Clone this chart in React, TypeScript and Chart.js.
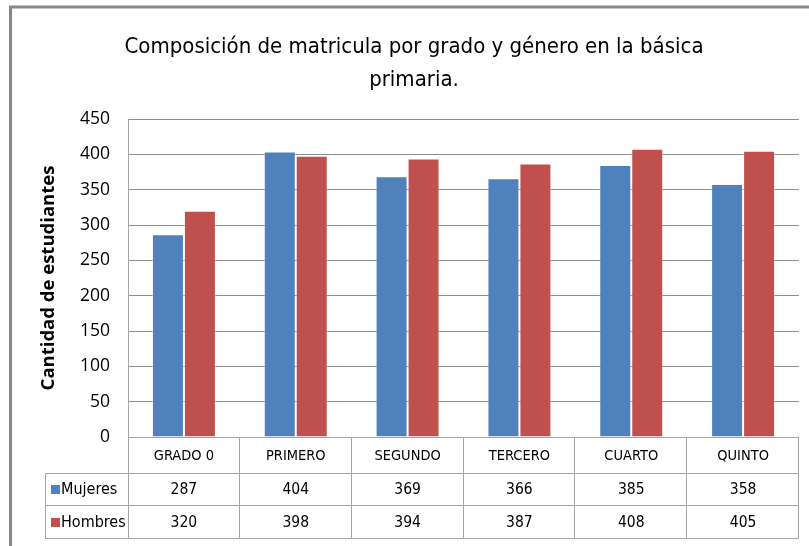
import { useEffect, useRef } from "react";
import { Chart, registerables } from "chart.js";

Chart.register(...registerables);

const categories = ["GRADO 0", "PRIMERO", "SEGUNDO", "TERCERO", "CUARTO", "QUINTO"];
const mujeres = [287, 404, 369, 366, 385, 358];
const hombres = [320, 398, 394, 387, 408, 405];
const seriesNames = ["Mujeres", "Hombres"];
const seriesColors = ["#4F81BD", "#C0504D"];
const titleLines = ["Composición de matricula por grado y género en la básica", "primaria."];
const yAxisTitle = "Cantidad de estudiantes";
const yMin = 0;
const yMax = 450;
const yStep = 50;

const NARROW = '"Liberation Sans Narrow", "DejaVu Sans Condensed", sans-serif';
const OPEN = '"Open Sans", sans-serif';

const tablePlugin = {
  id: "tablePlugin",
  afterDraw(chart: any) {
    const ctx = chart.ctx as CanvasRenderingContext2D;
    const { left, right, top, bottom } = chart.chartArea;
    const n = categories.length;
    const colW = (right - left) / n;
    const r1 = bottom + 36;
    const r2 = bottom + 68;
    const r3 = bottom + 101;
    const tableLeft = 45;
    ctx.save();

    // frame
    ctx.strokeStyle = "#878787";
    ctx.lineWidth = 3;
    ctx.beginPath();
    ctx.moveTo(10.5, chart.height);
    ctx.lineTo(10.5, 7);
    ctx.lineTo(chart.width, 7);
    ctx.stroke();

    // title
    ctx.fillStyle = "#000";
    ctx.textAlign = "center";
    ctx.textBaseline = "middle";
    ctx.font = `22px ${NARROW}`;
    ctx.fillText(titleLines[0], 414, 47);
    ctx.fillText(titleLines[1], 414, 80);

    // y axis title
    ctx.save();
    ctx.translate(49, (top + bottom) / 2);
    ctx.rotate(-Math.PI / 2);
    ctx.font = `bold 18.5px ${OPEN}`;
    ctx.fillText(yAxisTitle, 0, 0);
    ctx.restore();

    // table lines
    ctx.strokeStyle = "#a6a6a6";
    ctx.lineWidth = 1;
    ctx.beginPath();
    const L = Math.round(left) + 0.5;
    const R = Math.round(right) - 0.5;
    ctx.moveTo(L, Math.round(bottom) + 0.5);
    ctx.lineTo(R, Math.round(bottom) + 0.5);
    for (const y of [r1, r2, r3]) {
      ctx.moveTo(tableLeft + 0.5, Math.round(y) + 0.5);
      ctx.lineTo(R, Math.round(y) + 0.5);
    }
    ctx.moveTo(tableLeft + 0.5, Math.round(r1) + 0.5);
    ctx.lineTo(tableLeft + 0.5, Math.round(r3) + 0.5);
    ctx.moveTo(L, Math.round(bottom) + 0.5);
    ctx.lineTo(L, Math.round(r3) + 0.5);
    for (let i = 1; i <= n; i++) {
      const x = Math.round(left + i * colW) - 0.5;
      ctx.moveTo(x, Math.round(bottom) + 0.5);
      ctx.lineTo(x, Math.round(r3) + 0.5);
    }
    ctx.stroke();

    // category labels and values
    const xs = chart.scales.x;
    ctx.fillStyle = "#000";
    ctx.textAlign = "center";
    ctx.font = `14.5px ${NARROW}`;
    categories.forEach((c, i) => {
      ctx.fillText(c, xs.getPixelForValue(i), (bottom + r1) / 2 + 1);
    });
    ctx.font = `15.5px ${NARROW}`;
    const rows = [mujeres, hombres];
    const rowMid = [(r1 + r2) / 2 + 1, (r2 + r3) / 2 + 1];
    rows.forEach((vals, ri) => {
      vals.forEach((v, i) => {
        ctx.fillText(String(v), xs.getPixelForValue(i), rowMid[ri]);
      });
    });

    // legend keys
    ctx.textAlign = "left";
    ctx.font = `16px ${NARROW}`;
    seriesNames.forEach((name, ri) => {
      ctx.fillStyle = seriesColors[ri];
      ctx.fillRect(51, Math.round(rowMid[ri]) - 5, 9, 9);
      ctx.fillStyle = "#000";
      ctx.fillText(name, 61, rowMid[ri]);
    });
    ctx.restore();
  },
};

export default function App() {
  const ref = useRef<HTMLCanvasElement | null>(null);
  useEffect(() => {
    if (!ref.current) return;
    const chart = new Chart(ref.current, {
      type: "bar",
      data: {
        labels: categories,
        datasets: [
          {
            label: seriesNames[0],
            data: mujeres,
            backgroundColor: seriesColors[0],
            borderColor: "rgba(255,255,255,0.45)",
            borderWidth: 1,
          },
          {
            label: seriesNames[1],
            data: hombres,
            backgroundColor: seriesColors[1],
            borderColor: "rgba(255,255,255,0.45)",
            borderWidth: 1,
          },
        ],
      },
      options: {
        responsive: false,
        animation: false,
        devicePixelRatio: 1,
        layout: { padding: { top: 119, right: 10, bottom: 109, left: 0 } },
        datasets: { bar: { categoryPercentage: 0.572, barPercentage: 1 } },
        plugins: { legend: { display: false }, title: { display: false }, tooltip: { enabled: false } },
        scales: {
          x: {
            ticks: { display: false },
            grid: { display: false },
            border: { display: false },
            afterFit(scale: any) {
              scale.height = 0;
            },
          },
          y: {
            min: yMin,
            max: yMax,
            ticks: { stepSize: yStep, padding: 18, color: "#000", font: { family: OPEN, size: 17.5 } },
            grid: { color: "#8f8f8f", drawTicks: false },
            border: { display: true, color: "#a6a6a6" },
            afterFit(scale: any) {
              scale.width = 128;
            },
          },
        },
      },
      plugins: [tablePlugin],
    } as any);
    return () => chart.destroy();
  }, []);
  return (
    <div style={{ position: "absolute", left: 0, top: 0, width: 809, height: 546, background: "#fff" }}>
      <canvas ref={ref} width={809} height={546} style={{ display: "block" }} />
    </div>
  );
}
